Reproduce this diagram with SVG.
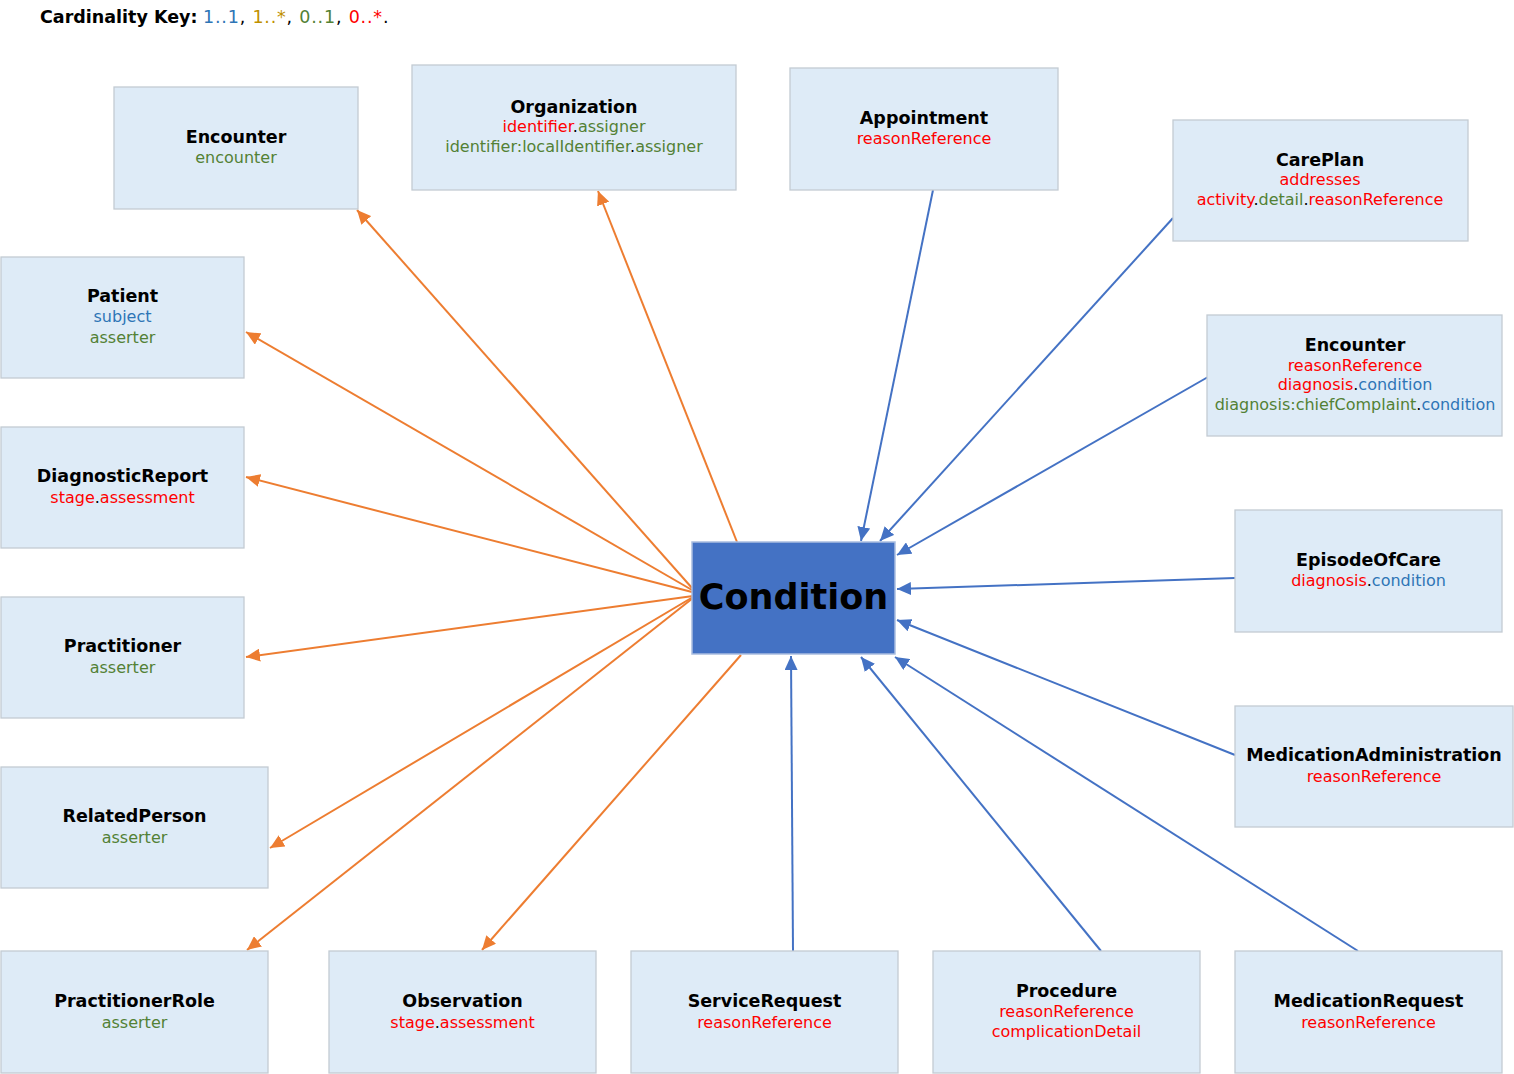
<svg xmlns="http://www.w3.org/2000/svg" width="1514" height="1074" viewBox="0 0 1514 1074">
<defs>
<style>
.box{fill:#deebf7;stroke:#c3cbd3;stroke-width:1.3}
.main{fill:#4472c4;stroke:#a9bde0;stroke-width:1.5}
text{font-family:"DejaVu Sans","Verdana",sans-serif;text-anchor:middle}
.t{font-size:17.5px;font-weight:bold;fill:#000}
.s{font-size:16px;fill:#000}
.b{fill:#2e75b6}.g{fill:#538135}.o{fill:#bf9000}.r{fill:#ff0000}.k{fill:#000}
.co{stroke:#ed7d31;stroke-width:2;fill:none;marker-end:url(#ao)}
.cb{stroke:#4472c4;stroke-width:2;fill:none;marker-end:url(#ab)}
</style>
<marker id="ao" markerUnits="userSpaceOnUse" markerWidth="15" markerHeight="13" refX="14" refY="6.5" orient="auto"><path d="M0,0 L14,6.5 L0,13 z" fill="#ed7d31"/></marker>
<marker id="ab" markerUnits="userSpaceOnUse" markerWidth="15" markerHeight="13" refX="14" refY="6.5" orient="auto"><path d="M0,0 L14,6.5 L0,13 z" fill="#4472c4"/></marker>
</defs>
<rect width="1514" height="1074" fill="#fff"/>
<text x="40" y="23" style="text-anchor:start;font-size:17.5px"><tspan style="font-weight:bold;font-size:17.5px">Cardinality Key:</tspan> <tspan style="letter-spacing:0.8px"><tspan class="b">1..1</tspan>, <tspan class="o">1..*</tspan>, <tspan class="g">0..1</tspan>, <tspan class="r">0..*</tspan>.</tspan></text>

<g id="connectors">
<line class="co" x1="692" y1="588" x2="357" y2="210"/>
<line class="co" x1="737" y1="542" x2="598" y2="191"/>
<line class="co" x1="692" y1="590" x2="246" y2="332"/>
<line class="co" x1="692" y1="592" x2="246" y2="477"/>
<line class="co" x1="693" y1="596" x2="246" y2="657"/>
<line class="co" x1="693" y1="597" x2="270" y2="848"/>
<line class="co" x1="693" y1="598" x2="247" y2="950"/>
<line class="co" x1="741" y1="655" x2="482" y2="950"/>
<line class="cb" x1="933" y1="190" x2="861" y2="541"/>
<line class="cb" x1="1173" y1="218" x2="880" y2="541"/>
<line class="cb" x1="1208" y1="377" x2="897" y2="555"/>
<line class="cb" x1="1235" y1="578" x2="897" y2="589"/>
<line class="cb" x1="1235" y1="755" x2="897" y2="620"/>
<line class="cb" x1="1358" y1="951" x2="895" y2="657"/>
<line class="cb" x1="1101" y1="951" x2="861" y2="657"/>
<line class="cb" x1="793" y1="951" x2="791" y2="656"/>
</g>

<g id="condition"><rect class="main" x="692" y="542" width="203" height="112"/><text x="793.5" y="609" style="font-size:35px;font-weight:bold">Condition</text></g>

<g id="encounter-left"><rect class="box" x="114" y="87" width="244" height="122"/><text class="t" x="236" y="143">Encounter</text><text class="s g" x="236" y="163">encounter</text></g>

<g id="organization"><rect class="box" x="412" y="65" width="324" height="125"/><text class="t" x="574" y="113">Organization</text><text class="s" x="574" y="132"><tspan class="r">identifier</tspan>.<tspan class="g">assigner</tspan></text><text class="s" x="574" y="152"><tspan class="g">identifier:localIdentifier</tspan>.<tspan class="g">assigner</tspan></text></g>

<g id="appointment"><rect class="box" x="790" y="68" width="268" height="122"/><text class="t" x="924" y="124">Appointment</text><text class="s r" x="924" y="144">reasonReference</text></g>

<g id="careplan"><rect class="box" x="1173" y="120" width="295" height="121"/><text class="t" x="1320" y="166">CarePlan</text><text class="s r" x="1320" y="185">addresses</text><text class="s" x="1320" y="205"><tspan class="r">activity</tspan>.<tspan class="g">detail</tspan>.<tspan class="r">reasonReference</tspan></text></g>

<g id="encounter-right"><rect class="box" x="1207" y="315" width="295" height="121"/><text class="t" x="1355" y="351">Encounter</text><text class="s r" x="1355" y="371">reasonReference</text><text class="s" x="1355" y="390"><tspan class="r">diagnosis</tspan>.<tspan class="b">condition</tspan></text><text class="s" x="1355" y="410"><tspan class="g">diagnosis:chiefComplaint</tspan>.<tspan class="b">condition</tspan></text></g>

<g id="episodeofcare"><rect class="box" x="1235" y="510" width="267" height="122"/><text class="t" x="1368.5" y="566">EpisodeOfCare</text><text class="s" x="1368.5" y="586"><tspan class="r">diagnosis</tspan>.<tspan class="b">condition</tspan></text></g>

<g id="medicationadministration"><rect class="box" x="1235" y="706" width="278" height="121"/><text class="t" x="1374" y="761">MedicationAdministration</text><text class="s r" x="1374" y="782">reasonReference</text></g>

<g id="medicationrequest"><rect class="box" x="1235" y="951" width="267" height="122"/><text class="t" x="1368.5" y="1007">MedicationRequest</text><text class="s r" x="1368.5" y="1028">reasonReference</text></g>

<g id="procedure"><rect class="box" x="933" y="951" width="267" height="122"/><text class="t" x="1066.5" y="997">Procedure</text><text class="s r" x="1066.5" y="1017">reasonReference</text><text class="s r" x="1066.5" y="1037">complicationDetail</text></g>

<g id="servicerequest"><rect class="box" x="631" y="951" width="267" height="122"/><text class="t" x="764.5" y="1007">ServiceRequest</text><text class="s r" x="764.5" y="1028">reasonReference</text></g>

<g id="observation"><rect class="box" x="329" y="951" width="267" height="122"/><text class="t" x="462.5" y="1007">Observation</text><text class="s" x="462.5" y="1028"><tspan class="r">stage</tspan>.<tspan class="r">assessment</tspan></text></g>

<g id="practitionerrole"><rect class="box" x="1" y="951" width="267" height="122"/><text class="t" x="134.5" y="1007">PractitionerRole</text><text class="s g" x="134.5" y="1028">asserter</text></g>

<g id="relatedperson"><rect class="box" x="1" y="767" width="267" height="121"/><text class="t" x="134.5" y="822">RelatedPerson</text><text class="s g" x="134.5" y="843">asserter</text></g>

<g id="practitioner"><rect class="box" x="1" y="597" width="243" height="121"/><text class="t" x="122.5" y="652">Practitioner</text><text class="s g" x="122.5" y="673">asserter</text></g>

<g id="diagnosticreport"><rect class="box" x="1" y="427" width="243" height="121"/><text class="t" x="122.5" y="482">DiagnosticReport</text><text class="s" x="122.5" y="503"><tspan class="r">stage</tspan>.<tspan class="r">assessment</tspan></text></g>

<g id="patient"><rect class="box" x="1" y="257" width="243" height="121"/><text class="t" x="122.5" y="302">Patient</text><text class="s b" x="122.5" y="322">subject</text><text class="s g" x="122.5" y="343">asserter</text></g>
</svg>
